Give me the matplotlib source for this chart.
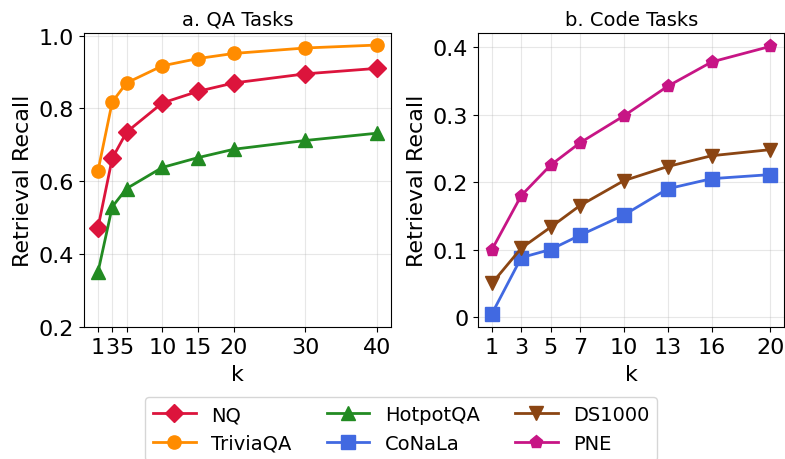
import matplotlib
matplotlib.use('Agg')
import matplotlib.pyplot as plt
from matplotlib.ticker import FuncFormatter

# QA tasks (panel a)
qa_k = [1, 3, 5, 10, 15, 20, 30, 40]
nq = [0.472, 0.663, 0.735, 0.815, 0.847, 0.870, 0.895, 0.910]
triviaqa = [0.628, 0.818, 0.870, 0.917, 0.937, 0.951, 0.966, 0.974]
hotpotqa = [0.350, 0.530, 0.580, 0.638, 0.665, 0.688, 0.712, 0.732]

# Code tasks (panel b)
code_k = [1, 3, 5, 7, 10, 13, 16, 20]
conala = [0.005, 0.088, 0.100, 0.121, 0.151, 0.190, 0.205, 0.211]
ds1000 = [0.050, 0.102, 0.133, 0.165, 0.202, 0.223, 0.239, 0.248]
pne = [0.100, 0.180, 0.225, 0.258, 0.298, 0.342, 0.378, 0.401]

fig = plt.figure(figsize=(7.85, 4.6), dpi=100)
ax1 = fig.add_axes([0.107, 0.287, 0.391, 0.639])
ax2 = fig.add_axes([0.609, 0.287, 0.390, 0.639])

style = dict(linewidth=2, markersize=9.5)
h_nq, = ax1.plot(qa_k, nq, marker='D', color='#DC143C', label='NQ', **style)
h_tq, = ax1.plot(qa_k, triviaqa, marker='o', color='#FF8C00', label='TriviaQA', **style)
h_hp, = ax1.plot(qa_k, hotpotqa, marker='^', color='#228B22', label='HotpotQA', **style)

h_cn, = ax2.plot(code_k, conala, marker='s', color='#4169E1', label='CoNaLa', **style)
h_ds, = ax2.plot(code_k, ds1000, marker='v', color='#8B4513', label='DS1000', **style)
h_pn, = ax2.plot(code_k, pne, marker='p', color='#C71585', label='PNE', **style)

ax1.set_ylim(0.2, 1.007)
ax1.set_xticks(qa_k)
ax1.set_yticks([0.2, 0.4, 0.6, 0.8, 1.0])
ax1.set_title('a. QA Tasks', fontsize=14)

ax2.set_xticks(code_k)
ax2.set_yticks([0, 0.1, 0.2, 0.3, 0.4])
ax2.yaxis.set_major_formatter(FuncFormatter(lambda v, p: '{:g}'.format(round(v, 2))))
ax2.set_title('b. Code Tasks', fontsize=14)

for ax in (ax1, ax2):
    ax.set_xlabel('k', fontsize=16, labelpad=5)
    ax.set_ylabel('Retrieval Recall', fontsize=16)
    ax.tick_params(labelsize=16)
    ax.grid(alpha=0.3)

fig.legend(handles=[h_nq, h_tq, h_hp, h_cn, h_ds, h_pn], ncol=3, fontsize=14,
           loc='upper center', bbox_to_anchor=(0.511, 0.155),
           columnspacing=1.8, handlelength=2.2)

plt.savefig('out.png', dpi=100)
plt.close()
